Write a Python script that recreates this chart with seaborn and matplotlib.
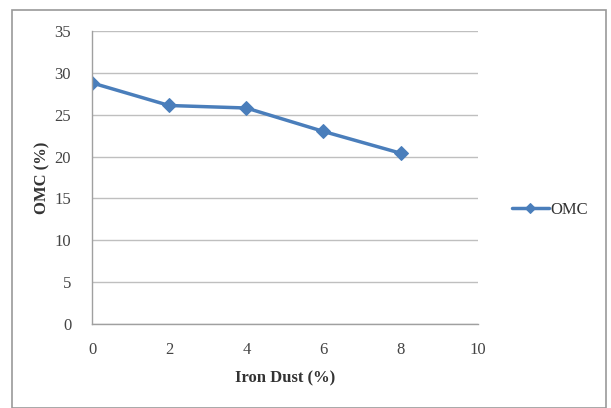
import matplotlib
matplotlib.use("Agg")
import matplotlib.pyplot as plt
import seaborn as sns
import pandas as pd
from matplotlib.patches import Rectangle

iron_dust = [0, 2, 4, 6, 8]
omc = [28.8, 26.1, 25.8, 23.0, 20.4]
series_name = "OMC"

sns.set_style("white")
plt.rcParams['font.family'] = ['Liberation Serif', 'DejaVu Serif']

df = pd.DataFrame({"Iron Dust (%)": iron_dust, "OMC (%)": omc, "series": series_name})

fig = plt.figure(figsize=(6.11, 4.08), dpi=100)
ax = fig.add_axes([0.1506, 0.206, 0.6314, 0.718])

color = "#4A7EBB"
sns.lineplot(data=df, x="Iron Dust (%)", y="OMC (%)", hue="series", palette=[color],
             marker="D", markersize=7, linewidth=2.5, markeredgecolor=color, ax=ax)

ax.set_xlim(0, 10)
ax.set_ylim(0, 35)
ax.set_xticks(range(0, 11, 2))
ax.set_yticks(range(0, 36, 5))
ax.yaxis.grid(True, color="#BFBFBF", linewidth=1)
ax.xaxis.grid(False)
for s in ["top", "right"]:
    ax.spines[s].set_visible(False)
for s in ["left", "bottom"]:
    ax.spines[s].set_color("#A0A0A0")
    ax.spines[s].set_linewidth(1)
ax.tick_params(axis="both", labelsize=12, colors="#444444", length=0)
ax.tick_params(axis="y", pad=15)
ax.tick_params(axis="x", pad=13)
ax.set_xlabel("Iron Dust (%)", fontsize=12, fontweight="bold", color="#333333", labelpad=9)
ax.set_ylabel("OMC (%)", fontsize=12, fontweight="bold", color="#333333", labelpad=3)

leg = ax.legend(loc="center left", bbox_to_anchor=(1.05, 0.39), frameon=False,
                fontsize=12, handlelength=2.2, handletextpad=0.1)
for t in leg.get_texts():
    t.set_color("#333333")
for h in leg.legend_handles:
    h.set_markersize(5)

fig.patches.append(Rectangle((0.019, 0.0), 0.972, 0.975, transform=fig.transFigure,
                             fill=False, edgecolor="#999999", linewidth=1.2))

fig.savefig("out.png", dpi=100)
